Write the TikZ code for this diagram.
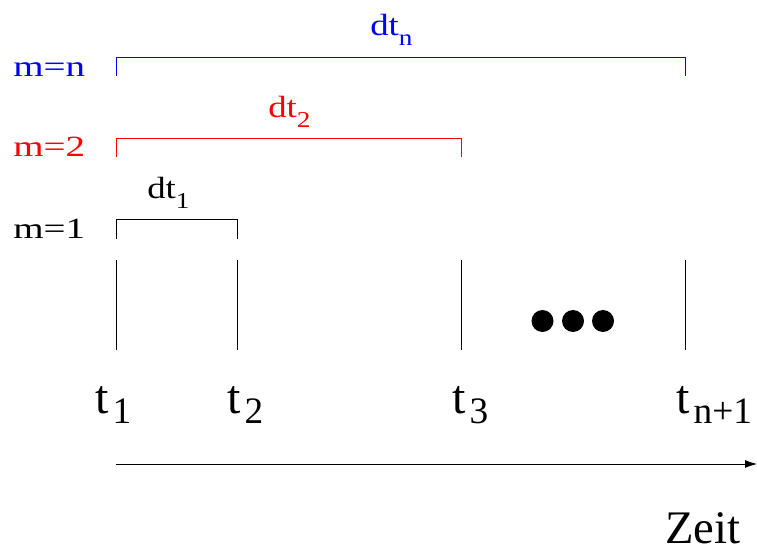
\documentclass[tikz,border=0pt]{standalone}
\usepackage{fontspec}
\setmainfont{Liberation Serif}
\usetikzlibrary{arrows.meta}
\newcommand{\tsub}[1]{t\hspace{3pt}\raisebox{-7.5pt}{\fontsize{28}{30}\selectfont #1}}
\newcommand{\dsub}[1]{\scalebox{1.2}[1]{dt\raisebox{-7.5pt}{\fontsize{17}{19}\selectfont #1}}}
\newcommand{\mwide}[1]{\scalebox{1.33}[1]{#1}}
\tikzset{
  mlab/.style={anchor=base west, inner sep=0pt, font=\fontsize{22}{26}\selectfont},
  dlab/.style={anchor=base west, inner sep=0pt, font=\fontsize{23}{27}\selectfont},
  tlab/.style={anchor=base west, inner sep=0pt, font=\fontsize{36}{40}\selectfont},
  thin line/.style={line width=0.6pt},
  dot/.style={circle, fill, inner sep=0pt, minimum size=16.5pt}
}
\begin{document}
\begin{tikzpicture}[x=0.75pt, y=-0.75pt]
\useasboundingbox (0,0) rectangle (757,552);
\node[mlab, blue] (mn) at (13,77) {\mwide{m=n}};
\node[mlab, red] (m2) at (13,157) {\mwide{m=2}};
\node[mlab] (m1) at (13,239) {\mwide{m=1}};
\node[dlab, blue] (dtn) at (370,36) {\dsub{n}};
\node[dlab, red] (dt2) at (268,118) {\dsub{2}};
\node[dlab] (dt1) at (147,199) {\dsub{1}};
\coordinate (ln) at (116,76);
\coordinate (rn) at (685,76);
\coordinate (l2) at (116,157);
\coordinate (r2) at (461,157);
\coordinate (l1) at (116,239);
\coordinate (r1) at (237,239);
\draw[thin line, blue] (ln) -- ++(0,-19) -| (rn);
\draw[thin line, red] (l2) -- ++(0,-19) -| (r2);
\draw[thin line] (l1) -- ++(0,-20) -| (r1);
\coordinate (a1) at (116,260);
\coordinate (b1) at (116,350);
\coordinate (a2) at (237,260);
\coordinate (b2) at (237,350);
\coordinate (a3) at (461,260);
\coordinate (b3) at (461,350);
\coordinate (a4) at (685,260);
\coordinate (b4) at (685,350);
\draw[thin line] (a1) -- (b1);
\draw[thin line] (a2) -- (b2);
\draw[thin line] (a3) -- (b3);
\draw[thin line] (a4) -- (b4);
\node[dot] (dot1) at (542.5,321) {};
\node[dot] (dot2) at (573,321) {};
\node[dot] (dot3) at (603,321) {};
\node[tlab] (t1) at (95,413) {\tsub{1}};
\node[tlab] (t2) at (227,413) {\tsub{2}};
\node[tlab] (t3) at (452,413) {\tsub{3}};
\node[tlab] (tn) at (676,413) {\tsub{n+1}};
\coordinate (ax0) at (116,464);
\coordinate (ax1) at (757,464);
\draw[thin line, -{Latex[length=9pt, width=6pt]}] (ax0) -- (ax1);
\node[tlab, font=\fontsize{35}{40}\selectfont] (zeit) at (665,543) {Zeit};
\end{tikzpicture}
\end{document}
